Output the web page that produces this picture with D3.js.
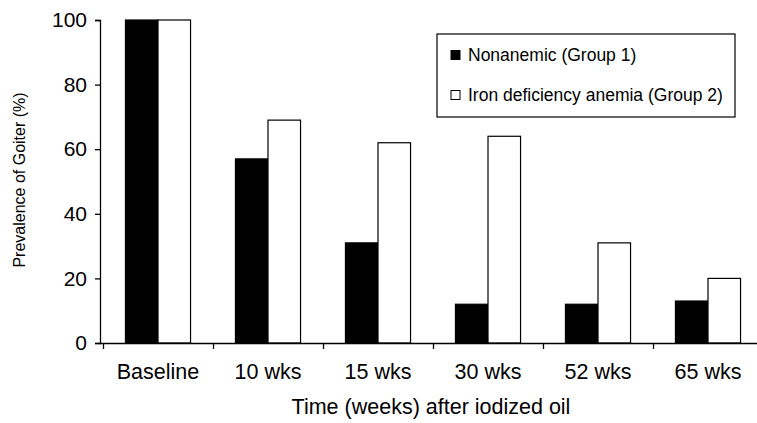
<!DOCTYPE html>
<html>
<head>
<meta charset="utf-8">
<script src="https://cdn.jsdelivr.net/npm/d3@7"></script>
<style>
  body { margin: 0; background: #fff; }
  svg { font-family: "Liberation Sans", Arial, sans-serif; }
</style>
</head>
<body>
<svg id="chart"></svg>
<script>
// data
const categories = ['Baseline', '10 wks', '15 wks', '30 wks', '52 wks', '65 wks'];
const groups = ['Nonanemic (Group 1)', 'Iron deficiency anemia (Group 2)'];
const nonanemic = [100, 57, 31, 12, 12, 13];
const ironDeficiency = [100, 69, 62, 64, 31, 20];
const yTicks = [0, 20, 40, 60, 80, 100];

const data = categories.map((c, i) => ({ cat: c, values: [nonanemic[i], ironDeficiency[i]] }));

const W = 757, H = 423;
const margin = { top: 20, right: -6, bottom: 80, left: 103 };
const width = W - margin.left - margin.right;
const height = H - margin.top - margin.bottom;

const svg = d3.select('#chart').attr('width', W).attr('height', H);
const chart = svg.append('g').attr('transform', `translate(${margin.left},${margin.top})`);

const x = d3.scaleBand().domain(categories).range([0, 660]).padding(0);
const x1 = d3.scaleBand().domain(groups).range([0, x.bandwidth()]).paddingInner(0).paddingOuter(0.69);
const xEdges = d3.scaleLinear().domain([0, categories.length]).range([0, 660]);
const y = d3.scaleLinear().domain([0, 100]).range([height, 0]);
const fills = ['#000', '#fff'];

// bars
chart.append('g').selectAll('g')
  .data(data)
  .join('g')
  .attr('transform', d => `translate(${x(d.cat)},0)`)
  .selectAll('rect')
  .data(d => d.values.map((v, i) => ({ g: groups[i], v, i })))
  .join('rect')
  .attr('x', d => x1(d.g))
  .attr('y', d => y(d.v))
  .attr('width', x1.bandwidth())
  .attr('height', d => height - y(d.v))
  .attr('fill', d => fills[d.i])
  .attr('stroke', '#000')
  .attr('stroke-width', 1.2);

// y axis
const yAxisG = chart.append('g')
  .attr('transform', 'translate(-3,0)')
  .call(d3.axisLeft(y).tickValues(yTicks).tickSize(5).tickPadding(8));
yAxisG.selectAll('text').attr('font-size', 21).attr('fill', '#000');
yAxisG.selectAll('path, line').attr('stroke', '#000').attr('stroke-width', 1.3);

// x axis: ticks at band edges, labels at centres
const xTickG = chart.append('g')
  .attr('transform', `translate(0,${height})`)
  .call(d3.axisBottom(xEdges).tickValues(d3.range(0, categories.length + 1)).tickFormat('').tickSize(6).tickSizeOuter(0));
xTickG.select('.domain').attr('d', `M-3,0.5H${width}`);
xTickG.selectAll('path, line').attr('stroke', '#000').attr('stroke-width', 1.3);

const xLabG = chart.append('g')
  .attr('transform', `translate(0,${height})`)
  .call(d3.axisBottom(x).tickSize(0).tickPadding(21));
xLabG.select('.domain').remove();
xLabG.selectAll('text').attr('font-size', 21.5).attr('fill', '#000');

// axis titles
svg.append('text')
  .attr('x', 431).attr('y', 414)
  .attr('text-anchor', 'middle')
  .attr('font-size', 21.5)
  .text('Time (weeks) after iodized oil');

svg.append('text')
  .attr('transform', 'translate(25,180) rotate(-90)')
  .attr('text-anchor', 'middle')
  .attr('font-size', 16)
  .text('Prevalence of Goiter (%)');

// legend
const legend = svg.append('g').attr('transform', 'translate(437,34)');
legend.append('rect')
  .attr('width', 298).attr('height', 83)
  .attr('fill', '#fff').attr('stroke', '#000').attr('stroke-width', 1.2);
const items = legend.selectAll('.item')
  .data(groups)
  .join('g')
  .attr('class', 'item')
  .attr('transform', (d, i) => `translate(14,${21 + i * 40})`);
items.append('rect')
  .attr('x', 0).attr('y', -4.5)
  .attr('width', 9).attr('height', 9)
  .attr('fill', (d, i) => fills[i])
  .attr('stroke', '#000').attr('stroke-width', 1);
items.append('text')
  .attr('x', 17).attr('y', 6)
  .attr('font-size', 17.5)
  .text(d => d);
</script>
</body>
</html>
